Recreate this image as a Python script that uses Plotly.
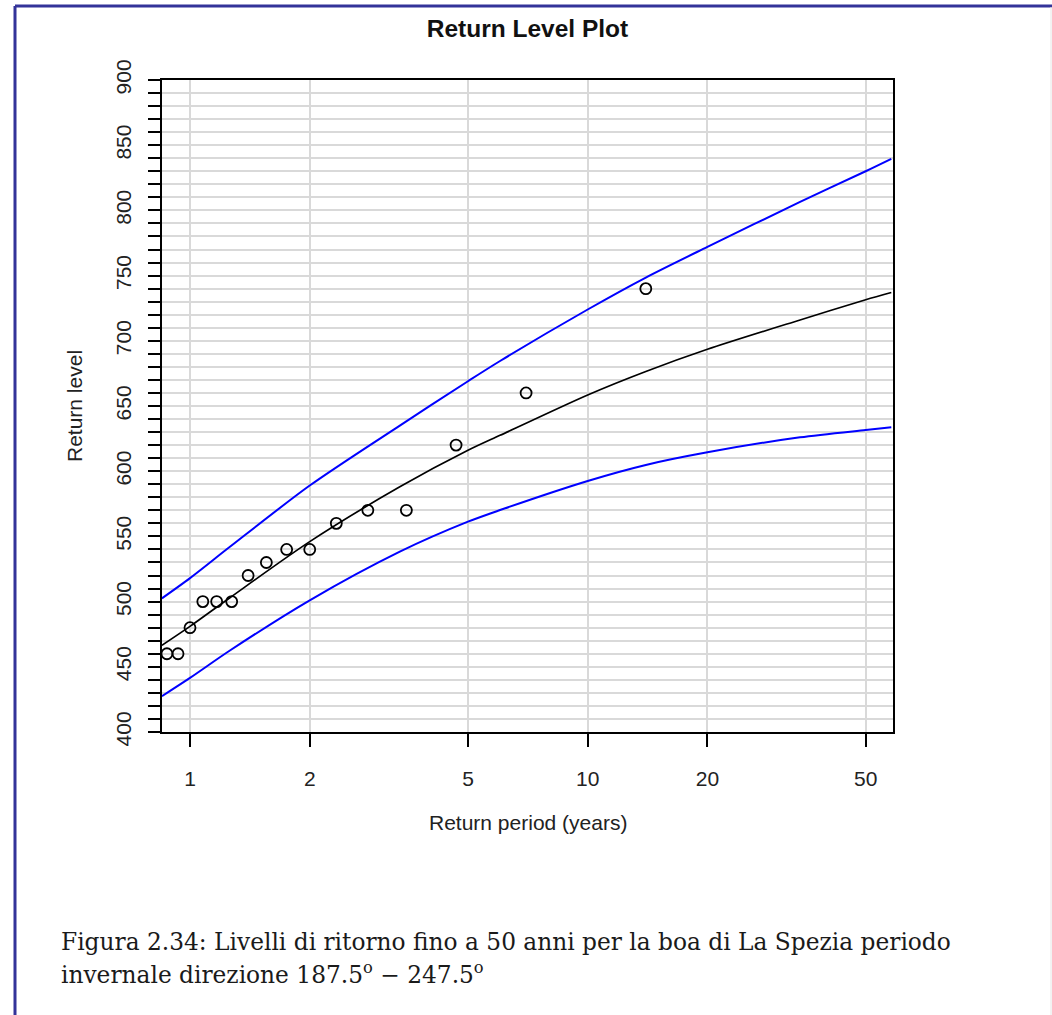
import plotly.graph_objects as go

# ---- data ----
period_pts = [0.875, 0.933, 1.0, 1.077, 1.167, 1.273, 1.4, 1.556, 1.75, 2.0,
              2.333, 2.8, 3.5, 4.667, 7.0, 14.0]
level_pts = [460, 460, 480, 500, 500, 500, 520, 530, 540, 540,
             560, 570, 570, 620, 660, 740]

curve_period = [0.85, 1, 1.26, 2, 3.37, 5, 6.02, 10, 14, 20, 34.2, 50, 58]
level_fit = [466.5, 481, 503, 546, 588, 616, 627.5, 658.5, 676.5, 693.5, 716, 731.5, 737]
level_upper = [502.5, 518, 542, 589, 635, 669, 684.5, 724, 748.5, 772, 806.5, 830, 839.5]
level_lower = [427.5, 441.5, 462.5, 501, 538.3, 561.3, 570.2, 592.5, 604.8, 614.5, 626, 631.6, 633.7]

x_ticks = [1, 2, 5, 10, 20, 50]
y_ticks = list(range(400, 901, 50))

title_text = "<b>Return Level Plot</b>"
x_title = "Return period (years)"
y_title = "Return level"
caption_1 = "Figura 2.34: Livelli di ritorno fino a 50 anni per la boa di La Spezia periodo"
caption_2 = "invernale direzione 187.5<sup>o</sup> \u2212 247.5<sup>o</sup>"

# ---- layout geometry (pixels) ----
W, H = 1052, 1015
L, R, T, B = 162, 159, 80, 283
PW, PH = W - L - R, H - T - B


def px_x(px):
    return (px - L) / PW


def px_y(py):
    return (H - B - py) / PH


SANS = "Liberation Sans, Arial, sans-serif"
SERIF = "DejaVu Serif, serif"
GRID = "#d9d9d9"

fig = go.Figure()
for vals in (level_upper, level_lower):
    fig.add_trace(go.Scatter(x=curve_period, y=vals, mode="lines",
                             line=dict(color="#0000ff", width=2, shape="spline",
                                       smoothing=0.8),
                             showlegend=False, hoverinfo="skip"))
fig.add_trace(go.Scatter(x=curve_period, y=level_fit, mode="lines",
                         line=dict(color="black", width=1.7, shape="spline",
                                   smoothing=0.8),
                         showlegend=False))
fig.add_trace(go.Scatter(x=period_pts, y=level_pts, mode="markers",
                         marker=dict(symbol="circle-open", size=11, color="black",
                                     line=dict(width=1.8, color="black")),
                         showlegend=False))

fig.update_xaxes(type="log", range=[-0.0704, 1.7677],
                 tickvals=x_ticks, ticktext=[str(v) for v in x_ticks],
                 ticks="outside", ticklen=13, tickwidth=1.5, tickcolor="black",
                 showline=True, linecolor="black", linewidth=1.5, mirror=True,
                 showgrid=True, gridcolor=GRID, gridwidth=1.5,
                 zeroline=False, ticklabelstandoff=14,
                 tickfont=dict(family=SANS, size=21, color="#222"))
fig.update_yaxes(range=[400, 900], tickvals=y_ticks,
                 ticktext=[str(v) for v in y_ticks], tickangle=-90,
                 ticks="outside", ticklen=12, tickwidth=1.5, tickcolor="black",
                 showline=True, linecolor="black", linewidth=1.5, mirror=True,
                 showgrid=True, gridcolor=GRID, gridwidth=1.5,
                 minor=dict(dtick=10, tick0=400, ticks="outside", ticklen=12,
                            tickwidth=1.5, tickcolor="black",
                            showgrid=True, gridcolor=GRID, gridwidth=1.5),
                 zeroline=False, ticklabelstandoff=9,
                 tickfont=dict(family=SANS, size=21, color="#222"))

annotations = [
    dict(text=x_title, x=0.5, y=px_y(822), xref="paper", yref="paper",
         xanchor="center", yanchor="middle", showarrow=False,
         font=dict(family=SANS, size=21, color="#222")),
    dict(text=y_title, x=px_x(74), y=0.5, xref="paper", yref="paper",
         xanchor="center", yanchor="middle", showarrow=False, textangle=-90,
         font=dict(family=SANS, size=21, color="#222")),
    dict(text=caption_1, x=px_x(59), y=px_y(941), xref="paper", yref="paper",
         xanchor="left", yanchor="middle", showarrow=False,
         font=dict(family=SERIF, size=23.3, color="#1a1a1a")),
    dict(text=caption_2, x=px_x(59), y=px_y(973), xref="paper", yref="paper",
         xanchor="left", yanchor="middle", showarrow=False,
         font=dict(family=SERIF, size=23.3, color="#1a1a1a")),
]

shapes = [
    dict(type="line", xref="paper", yref="paper", x0=px_x(15), x1=px_x(15),
         y0=px_y(6), y1=px_y(1030), line=dict(color="#333399", width=3)),
    dict(type="line", xref="paper", yref="paper", x0=px_x(15), x1=px_x(1060),
         y0=px_y(6), y1=px_y(6), line=dict(color="#333399", width=3)),
    dict(type="line", xref="paper", yref="paper", x0=px_x(1051), x1=px_x(1051),
         y0=px_y(7), y1=px_y(1030), line=dict(color="#e6e6e6", width=1)),
]

fig.update_layout(
    width=W, height=H,
    margin=dict(l=L, r=R, t=T, b=B, autoexpand=False),
    paper_bgcolor="white", plot_bgcolor="white",
    title=dict(text=title_text, x=0.5, xref="paper", y=1 - 28 / H,
               yref="container", xanchor="center", yanchor="middle",
               font=dict(family=SANS, size=24.5, color="#111")),
    annotations=annotations, shapes=shapes,
)

fig.write_html("out.html")
